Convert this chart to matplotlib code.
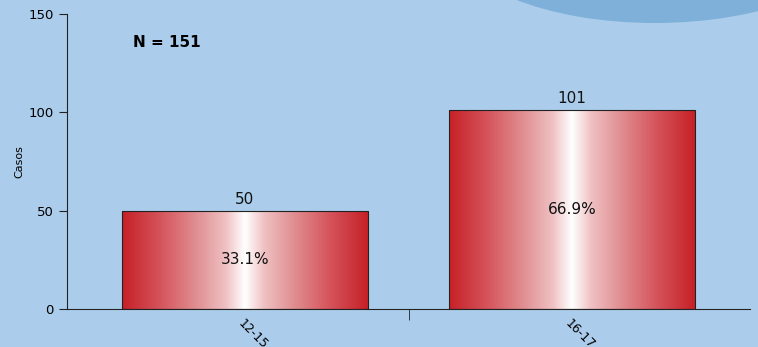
import matplotlib.pyplot as plt
import numpy as np
from matplotlib.colors import LinearSegmentedColormap
from matplotlib.patches import Ellipse, Rectangle

# Data
categories = ['12-15', '16-17']
casos = [50, 101]
percents = ['33.1%', '66.9%']
total_n = 151

bg = '#abcdeb'
red = '#c62127'
cmap = LinearSegmentedColormap.from_list(
    'redwhite',
    [(0, red), (0.15, '#d5525a'), (0.3, '#e08e91'), (0.42, '#efc0c2'), (0.5, 'white'),
     (0.58, '#efc0c2'), (0.7, '#e08e91'), (0.85, '#d5525a'), (1, red)])

fig = plt.figure(figsize=(7.58, 3.47), dpi=100, facecolor=bg)

# decorative ellipse top-right
fig.patches.append(Ellipse((655 / 758, 1 + 60 / 347), 400 / 758, 166 / 347,
                           transform=fig.transFigure, facecolor='#7fb0d9', edgecolor='none', zorder=0))

ax = fig.add_axes([67 / 758, 38 / 347, 683 / 758, 295 / 347])
ax.set_facecolor('none')

x = np.arange(len(categories))
width = 0.75
bars = ax.bar(x, casos, width, color='none', edgecolor='#222222', linewidth=0.8, zorder=3)

grad = np.linspace(0, 1, 256).reshape(1, -1)
for b, v, p in zip(bars, casos, percents):
    x0 = b.get_x()
    im = ax.imshow(grad, cmap=cmap, aspect='auto', extent=[x0, x0 + width, 0, v], zorder=2)
    im.set_clip_path(Rectangle((x0, 0), width, v, transform=ax.transData))
    ax.text(b.get_x() + width / 2, v + 2, str(v), ha='center', va='bottom', fontsize=11, color='#111111')
    ax.text(b.get_x() + width / 2, v / 2, p, ha='center', va='center', fontsize=11, color='#111111')

ax.set_xlim(-0.544, 1.544)
ax.set_ylim(0, 150)
ax.set_yticks([0, 50, 100, 150])
ax.set_xticks(x)
ax.set_xticklabels(categories, rotation=-45, ha='left', rotation_mode='anchor', fontsize=9)
ax.set_xticks([0.5], minor=True)
ax.tick_params(axis='x', which='major', length=0, pad=6)
ax.tick_params(axis='x', which='minor', length=8, direction='out', color='#222222')
ax.tick_params(axis='y', length=6, color='#222222', labelsize=9.5)
for s in ['top', 'right']:
    ax.spines[s].set_visible(False)
ax.spines['left'].set_color('#222222')
ax.spines['bottom'].set_color('#222222')
ax.set_ylabel('Casos', fontsize=8, labelpad=3)

ax.text(0.097, 0.905, 'N = ' + str(total_n), transform=ax.transAxes, fontsize=11,
        fontweight='bold', ha='left', va='center')

fig.savefig('out.png', dpi=100, facecolor=bg)
